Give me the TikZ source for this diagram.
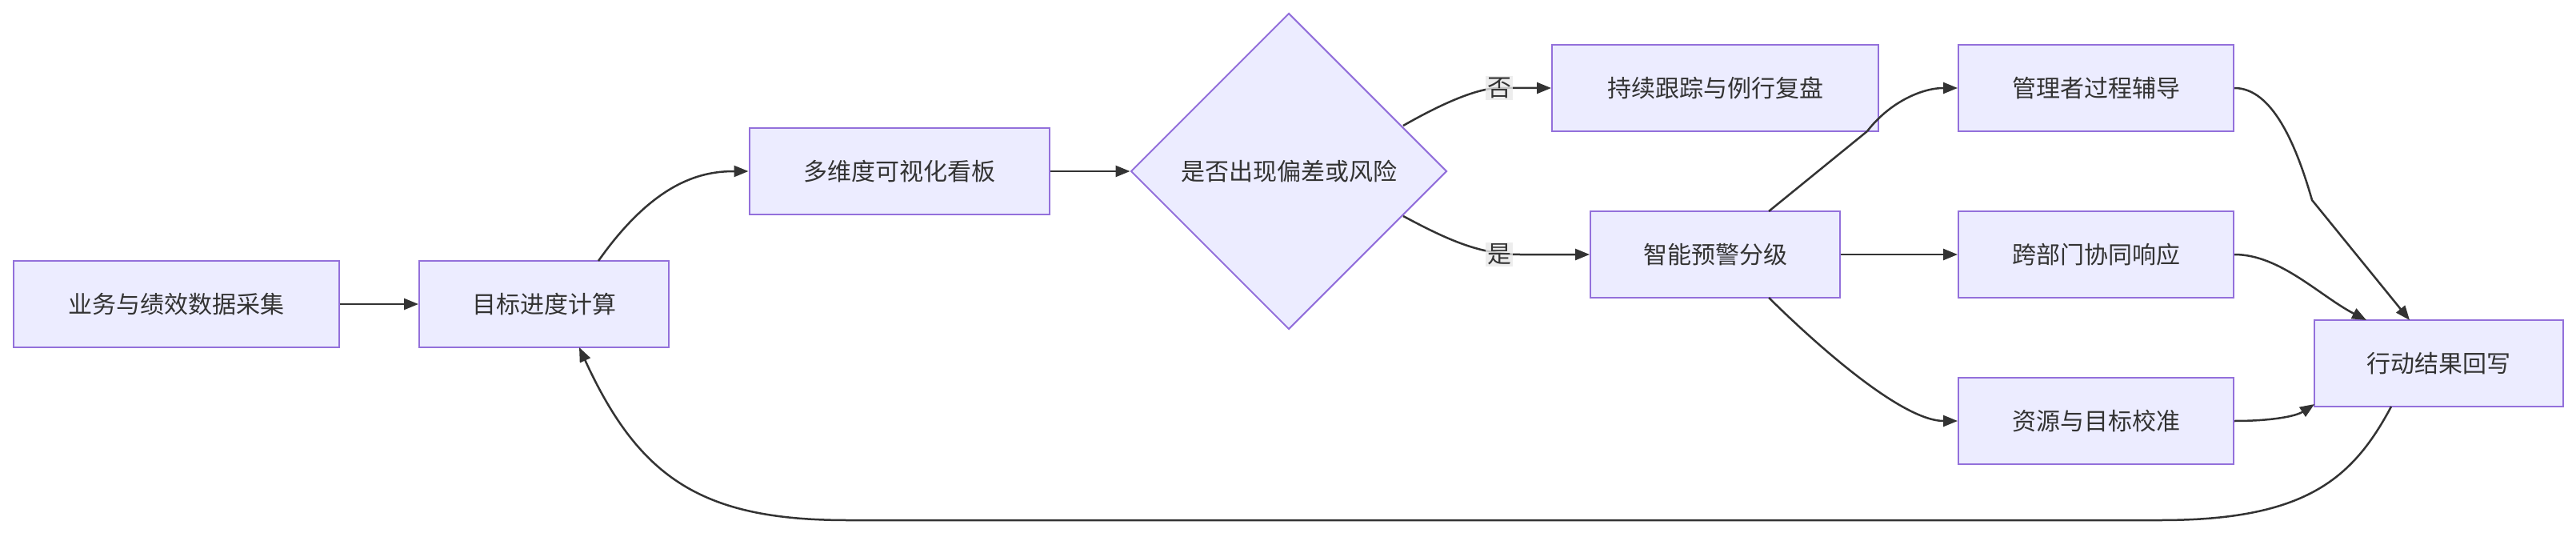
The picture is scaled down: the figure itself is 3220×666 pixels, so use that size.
\documentclass[tikz,border=0pt]{standalone}
\usepackage{fontspec}
\setmainfont{Noto Sans CJK SC}
\usetikzlibrary{arrows.meta,shapes.geometric}
\definecolor{nfill}{HTML}{ECECFF}
\definecolor{nstroke}{HTML}{9370DB}
\definecolor{ln}{HTML}{333333}
\definecolor{lbg}{HTML}{E8E8E8}
\begin{document}
\begin{tikzpicture}[x=1pt,y=-1pt,
  box/.style={draw=nstroke,fill=nfill,line width=2pt,minimum height=108pt,inner sep=0pt,font=\fontsize{30}{36}\selectfont,text=ln},
  dia/.style={diamond,draw=nstroke,fill=nfill,line width=2pt,minimum width=395pt,minimum height=395pt,inner sep=0pt,font=\fontsize{30}{36}\selectfont,text=ln,aspect=1},
  lab/.style={fill=lbg,fill opacity=0.8,text opacity=1,inner sep=2pt,font=\fontsize{30}{36}\selectfont,text=ln},
  e/.style={draw=ln,line width=2.5pt,-{Triangle[length=18pt,width=14pt]}},
  ]
\path[use as bounding box] (0,0) rectangle (3220,666);
\node[box,minimum width=407pt] (n1) at (220,380) {业务与绩效数据采集};
\node[box,minimum width=312pt] (n2) at (680,380) {目标进度计算};
\node[box,minimum width=375pt] (n3) at (1124,214) {多维度可视化看板};
\node[dia] (d) at (1611,214) {是否出现偏差或风险};
\node[box,minimum width=408pt] (a) at (2144,110) {持续跟踪与例行复盘};
\node[box,minimum width=312pt] (b) at (2144,318) {智能预警分级};
\node[box,minimum width=344pt] (m) at (2620,110) {管理者过程辅导};
\node[box,minimum width=344pt] (k) at (2620,318) {跨部门协同响应};
\node[box,minimum width=344pt] (r) at (2620,526) {资源与目标校准};
\node[box,minimum width=311pt] (x) at (3048,454) {行动结果回写};
\coordinate (dup) at (1754,157);
\coordinate (ddn) at (1754,270);
\coordinate (bt) at (2211,264);
\coordinate (bb) at (2211,372);
\coordinate (n2t) at (748,326);
\coordinate (xb) at (2989,508);
\coordinate (n2b) at (724,434);
\draw[e] (n1) -- (n2);
\draw[e] (n2t) .. controls (820,224) and (880,214) .. (n3.west);
\draw[e] (n3) -- (d);
\draw[e] (dup) .. controls (1810,125) and (1850,110) .. (1874,110) -- (a.west);
\draw[e] (ddn) .. controls (1810,300) and (1850,318) .. (1900,318) -- (b.west);
\node[lab] at (1874,110) {否};
\node[lab] at (1874,318) {是};
\draw[line width=2.5pt,draw=ln] (bt) -- (2334,164);
\draw[e] (2334,164) .. controls (2360,130) and (2400,110) .. (m.west);
\draw[e] (b) -- (k);
\draw[e] (bb) .. controls (2280,440) and (2380,526) .. (r.west);
\draw[e] (m.east) .. controls (2840,110) and (2870,180) .. (2890,250) -- (3012,400);
\draw[e] (k.east) .. controls (2850,318) and (2900,370) .. (2958,400);
\draw[e] (r.east) .. controls (2840,526) and (2870,520) .. (2893,505);
\draw[e] (xb) .. controls (2940,600) and (2880,650) .. (2700,650) -- (1060,650) .. controls (880,650) and (800,600) .. (n2b);
\end{tikzpicture}
\end{document}
